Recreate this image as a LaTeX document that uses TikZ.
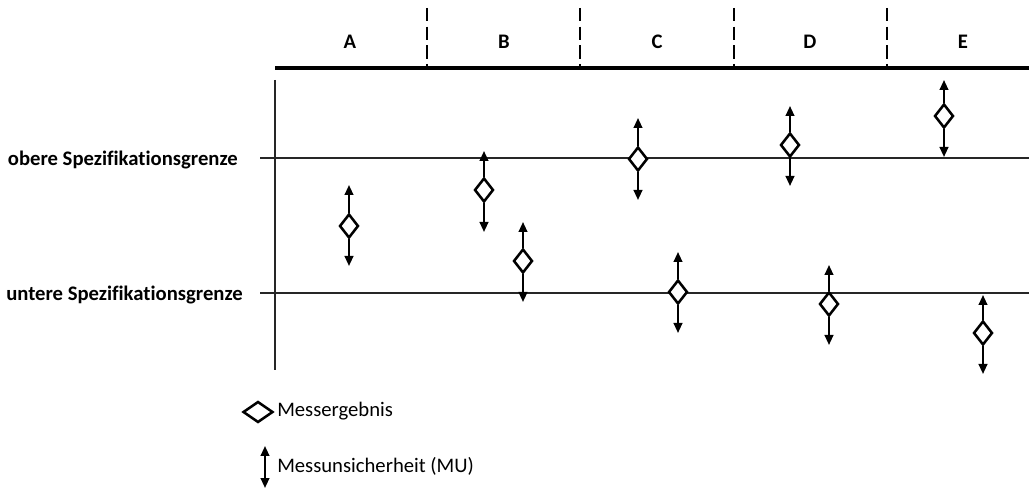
\documentclass[tikz,border=0pt]{standalone}
\usepackage{fontspec}
\setmainfont[Ligatures=NoCommon]{Carlito}
\usetikzlibrary{arrows.meta,shapes.geometric}
\begin{document}
\begin{tikzpicture}[x=0.75pt,y=-0.75pt,
  dia/.style={draw,line width=1.9pt,diamond,minimum width=19*0.75pt,minimum height=24*0.75pt,inner sep=0pt,fill=white},
  legdia/.style={draw,line width=1.9pt,diamond,minimum width=30*0.75pt,minimum height=21*0.75pt,inner sep=0pt,fill=white},
  mu/.style={line width=1.5pt,-{Triangle[width=6.5pt,length=7.5pt]}},
  lim/.style={line width=0.8pt,black!85},
  sep/.style={line width=1.4pt,dash pattern=on 10pt off 4pt},
  hdr/.style={font=\fontsize{15.5}{18}\selectfont\bfseries},
  lbl/.style={font=\fontsize{15.5}{18}\selectfont\bfseries},
  leg/.style={font=\fontsize{15.5}{18}\selectfont,anchor=west,inner sep=0pt}]
\useasboundingbox (0,0) rectangle (1029,488);
% header
\draw[line width=2.4pt] (275,68) -- (1029,68);
\foreach \x in {427,580,734,887} \draw[sep] (\x,8) -- (\x,67);
\node[hdr] (hA) at (350,42) {A};
\node[hdr] (hB) at (504,42) {B};
\node[hdr] (hC) at (657,42) {C};
\node[hdr] (hD) at (810,42) {D};
\node[hdr] (hE) at (963,42) {E};
% axis
\draw[lim] (275,80) -- (275,370);
\draw[lim] (260,158) -- (1029,158);
\draw[lim] (260,293) -- (1029,293);
\node[lbl,anchor=east,inner sep=0pt] (ob) at (238,160) {obere Spezifikationsgrenze};
\node[lbl,anchor=east,inner sep=0pt] (un) at (243,295) {untere Spezifikationsgrenze};
% data points
\foreach \n/\x/\c/\t/\b in {a/349/226/185/266, b1/484/190/151/232, b2/523/261/222/302,
  c1/638/159/118/200, c2/678/292/252/333, d1/790/145/106/186, d2/829/304/265/345,
  e1/944/116/80/157, e2/983/333/295/374}{
  \coordinate (\n t) at (\x,\t);
  \coordinate (\n b) at (\x,\b);
  \node[dia] (\n) at (\x,\c) {};
  \draw[mu] (\n.north) -- (\n t);
  \draw[mu] (\n.south) -- (\n b);
}
% legend
\node[legdia] (ld) at (258,412) {};
\node[leg] (lt1) at (277,411) {Messergebnis};
\coordinate (lat) at (265,446);
\coordinate (lab) at (265,488);
\coordinate (lam) at (265,467);
\draw[mu] (lam) -- (lat);
\draw[mu] (lam) -- (lab);
\node[leg] (lt2) at (277,466) {Messunsicherheit (MU)};
\end{tikzpicture}
\end{document}
